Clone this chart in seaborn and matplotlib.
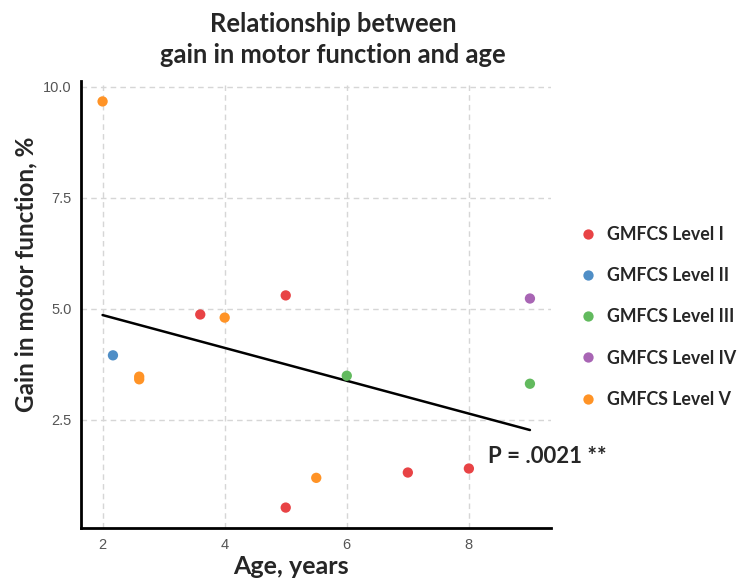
import numpy as np
import pandas as pd
import matplotlib
matplotlib.use("Agg")
import matplotlib.pyplot as plt
import seaborn as sns

# data
ages = [2.0, 2.17, 2.6, 2.6, 3.6, 4.0, 5.0, 5.0, 5.5, 6.0, 7.0, 8.0, 9.0, 9.0]
gains = [9.67, 3.95, 3.47, 3.41, 4.87, 4.80, 5.30, 0.52, 1.19, 3.49, 1.31, 1.40, 5.23, 3.31]
levels = ["GMFCS Level V", "GMFCS Level II", "GMFCS Level V", "GMFCS Level V",
          "GMFCS Level I", "GMFCS Level V", "GMFCS Level I", "GMFCS Level I",
          "GMFCS Level V", "GMFCS Level III", "GMFCS Level I", "GMFCS Level I",
          "GMFCS Level IV", "GMFCS Level III"]
level_order = ["GMFCS Level I", "GMFCS Level II", "GMFCS Level III",
               "GMFCS Level IV", "GMFCS Level V"]
level_colors = ["#E84345", "#4F8EC6", "#62BA5E", "#A865B4", "#FF9326"]
x_ticks = [2, 4, 6, 8]
y_ticks = [2.5, 5.0, 7.5, 10.0]
p_label = "P = .0021 **"

df = pd.DataFrame({"age": ages, "gain": gains, "level": levels})

sns.set_style("white")
plt.rcParams["font.family"] = ["Lato", "DejaVu Sans"]

fig = plt.figure(figsize=(7.45, 5.87), dpi=100)
ax = fig.add_axes([0.109, 0.1005, 0.631, 0.7615])

# regression line over all points
sns.regplot(data=df, x="age", y="gain", scatter=False, ci=None,
            color="black", line_kws={"linewidth": 1.8}, ax=ax)
sns.scatterplot(data=df, x="age", y="gain", hue="level", hue_order=level_order,
                palette=dict(zip(level_order, level_colors)), s=55,
                edgecolor="none", ax=ax, zorder=3)

ax.set_xlim(1.65, 9.35)
ax.set_ylim(0.06, 10.13)
ax.set_xticks(x_ticks)
ax.set_yticks(y_ticks)
ax.set_yticklabels([f"{v:.1f}" for v in y_ticks])
ax.grid(True, linestyle=(0, (4, 3)), color="#d6d6d6", linewidth=1)
ax.set_axisbelow(True)
for side in ["top", "right"]:
    ax.spines[side].set_visible(False)
for side in ["left", "bottom"]:
    ax.spines[side].set_color("black")
    ax.spines[side].set_linewidth(2)
ax.tick_params(length=0, pad=7, labelsize=10.5, labelcolor="#555555")
for lab in ax.get_xticklabels() + ax.get_yticklabels():
    lab.set_family(["Liberation Sans", "DejaVu Sans"])
ax.set_xlabel("")
ax.set_ylabel("")

ax.text(8.31, 1.68, p_label, fontsize=16, fontweight="bold",
        va="center", ha="left", clip_on=False)

fig.text(333 / 745, 1 - 39.5 / 587, "Relationship between\ngain in motor function and age",
         ha="center", va="center", fontsize=18.4, fontweight="bold",
         linespacing=1.38)
fig.text(291 / 745, 1 - 567 / 587, "Age, years", ha="center", va="center",
         fontsize=18, fontweight="bold")
fig.text(26 / 745, 1 - 274 / 587, "Gain in motor function, %", ha="center",
         va="center", rotation=90, fontsize=17.5, fontweight="bold")

handles, labels = ax.get_legend_handles_labels()
ax.legend_.remove()
fig.legend(handles, labels, loc="center left", bbox_to_anchor=(570 / 745, 1 - 317 / 587),
           frameon=False, prop={"weight": "bold", "size": 12.8},
           labelspacing=1.36, handletextpad=0.1, markerscale=1.0,
           borderaxespad=0, borderpad=0)

fig.savefig("out.png", dpi=100)
